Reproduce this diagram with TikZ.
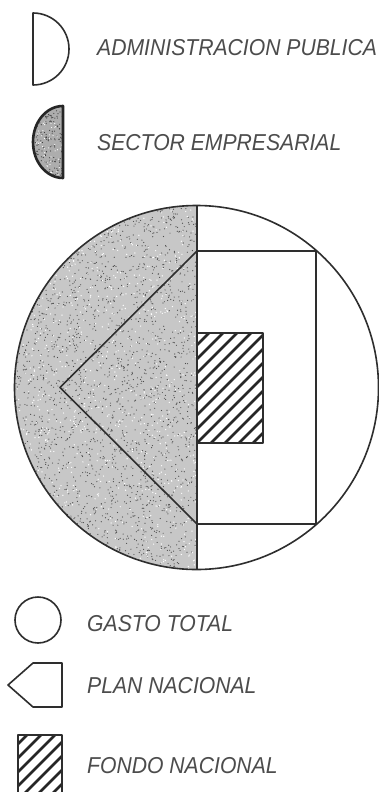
\documentclass[tikz,border=0pt]{standalone}
\usepackage{fontspec}
\setmainfont{Liberation Sans}
\newfontfamily\lblfont[FakeStretch=0.92]{Liberation Sans}
\begin{document}
\begin{tikzpicture}[x=1pt,y=-1pt,
  outline/.style={draw=black!82,line width=1.6pt,line join=round},
  thick outline/.style={draw=black!85,line width=2.6pt,line join=round},
  hatchline/.style={draw=black!85,line width=2.8pt},
  lbl/.style={anchor=base west,inner sep=0pt,text=black!70,font=\lblfont\fontsize{23}{26}\selectfont\itshape},
]
\useasboundingbox (0,0) rectangle (379,792);
\fill[white] (0,0) rectangle (379,792);
\pgfmathsetseed{7}

% ---------- legend: administracion publica ----------
\draw[outline] (33,13) -- (33,85)
  .. controls (52.9,85) and (69,68.9) .. (69,49)
  .. controls (69,29.1) and (52.9,13) .. (33,13) -- cycle;
\node[lbl] (admin) at (97,56) {ADMINISTRACION PUBLICA};

% ---------- legend: sector empresarial ----------
\begin{scope}
  \clip (63,106) -- (63,178)
    .. controls (46.4,178) and (33,161.9) .. (33,142)
    .. controls (33,122.1) and (46.4,106) .. (63,106) -- cycle;
  \fill[black!32] (30,100) rectangle (66,182);
  \foreach \i in {1,...,180} {\fill[black!75] ({33+30*rnd},{106+72*rnd}) circle[radius=0.6pt];}
  \foreach \i in {1,...,70} {\fill[white] ({33+30*rnd},{106+72*rnd}) circle[radius=0.6pt];}
\end{scope}
\draw[thick outline] (63,106) -- (63,178)
  .. controls (46.4,178) and (33,161.9) .. (33,142)
  .. controls (33,122.1) and (46.4,106) .. (63,106) -- cycle;
\node[lbl] (sector) at (97,150) {SECTOR EMPRESARIAL};

% ---------- main diagram ----------
\coordinate (c) at (196.5,387.5);
\begin{scope}
  \clip (c) circle[radius=182pt];
  \clip (0,0) rectangle (197,792);
  \fill[black!22] (10,200) rectangle (200,575);
  \foreach \i in {1,...,2400} {\fill[black!70] ({14+184*rnd},{205+366*rnd}) circle[radius=0.6pt];}
  \foreach \i in {1,...,900} {\fill[white] ({14+184*rnd},{205+366*rnd}) circle[radius=0.7pt];}
\end{scope}

% fondo nacional (hatched)
\begin{scope}
  \clip (197,333) rectangle (263,443);
  \foreach \k in {-10,...,6} {\draw[hatchline] ({197+\k*14},443) -- ++(140,-140);}
\end{scope}
\draw[outline] (197,333) rectangle (263,443);

% plan nacional
\draw[outline] (316,251) -- (197,251) -- (60,387.5) -- (197,524) -- (316,524) -- cycle;
% vertical divider
\draw[outline] (197,205.5) -- (197,569.5);
% gasto total
\draw[outline] (c) circle[radius=182pt];

% ---------- legend: gasto total ----------
\draw[outline] (38,620) circle[radius=23pt];
\node[lbl] (gasto) at (87,631) {GASTO TOTAL};

% ---------- legend: plan nacional ----------
\draw[outline] (33,663) -- (62,663) -- (62,707) -- (33,707) -- (8,685) -- cycle;
\node[lbl] (plan) at (87,693) {PLAN NACIONAL};

% ---------- legend: fondo nacional ----------
\begin{scope}
  \clip (18,735) rectangle (62,800);
  \foreach \k in {-6,...,5} {\draw[hatchline] ({18+\k*14},800) -- ++(80,-80);}
\end{scope}
\draw[outline] (18,800) -- (18,735) -- (62,735) -- (62,800);
\node[lbl] (fondo) at (87,773) {FONDO NACIONAL};
\end{tikzpicture}
\end{document}
